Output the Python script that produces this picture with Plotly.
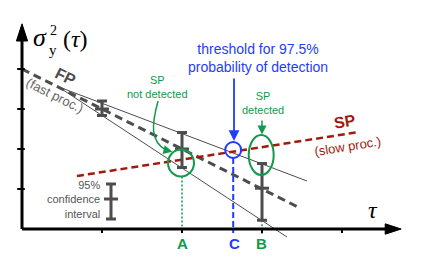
import plotly.graph_objects as go

W, H = 436, 267
OFF = 8  # page body margin offset of the figure in the browser
# data coordinate frame: tau ticks at 1..4, variance ticks at 1..4
X_RANGE = [(OFF - 22) / 80, (W + OFF - 22) / 80]
Y_RANGE = [(229 - H - OFF) / 40, (229 - OFF) / 40]

# ---- data ----
tau_ticks = [1, 2, 3, 4]
var_ticks = [1, 2, 3, 4]

fp_x = [0.0, 3.46]          # FP (fast process) mean line
fp_y = [4.0, 0.54]
upper_x = [0.45, 3.5625]    # upper confidence bound
upper_y = [3.56, 1.2]
lower_x = [0.45, 3.3125]    # lower confidence bound
lower_y = [3.56, -0.2]
sp_x = [0.6875, 4.2125]     # SP (slow process) line
sp_y = [1.325, 2.425]

eb_x = [1, 2, 3]            # measured points with 95% CI
eb_y = [3.0, 2.0, 1.02]
eb_up = [0.2, 0.41, 0.62]
eb_down = [0.16, 0.46, 0.8]

legend_eb_x = [1.1125]
legend_eb_y = [0.75]
legend_eb_up = [0.375]
legend_eb_down = [0.5]

tau_A, tau_B, tau_C = 2.0, 3.0, 2.64
circA = dict(cx=1.9875, cy=1.65, rx=0.1625, ry=0.335)
ellB = dict(cx=2.99, cy=1.85, rx=0.156, ry=0.5)
circC = dict(cx=2.64, cy=1.975, rx=0.1, ry=0.2)

GRAY = "#4d4d4d"
RED = "#a11a0c"
GREEN = "#0f9a4c"
BLUE = "#1f3cff"
SANS = "Liberation Sans, Arial, sans-serif"
SERIF = "Liberation Serif, Times New Roman, serif"

fig = go.Figure()

def line(x, y, color, width, dash="solid"):
    fig.add_trace(go.Scatter(x=x, y=y, mode="lines", hoverinfo="skip",
                             line=dict(color=color, width=width, dash=dash)))

line(upper_x, upper_y, GRAY, 1)
line(lower_x, lower_y, GRAY, 1)
line(fp_x, fp_y, GRAY, 3, "8px,5px")
line(sp_x, sp_y, RED, 2.5, "7px,4px")

# vertical guides
line([tau_A, tau_A], [circA["cy"] - circA["ry"], 0], GREEN, 1.5, "2px,2px")
line([tau_B, tau_B], [eb_y[2] - eb_down[2], -0.12], GREEN, 1.5, "2px,2px")
line([tau_C, tau_C], [circC["cy"] - circC["ry"], -0.1], BLUE, 2, "6px,3px")

def ebars(x, y, up, down):
    fig.add_trace(go.Scatter(
        x=x, y=y, mode="markers", hoverinfo="skip",
        marker=dict(symbol="line-ew", size=10, line=dict(color=GRAY, width=3)),
        error_y=dict(type="data", symmetric=False, array=up, arrayminus=down,
                     color=GRAY, thickness=3, width=5)))

ebars(eb_x, eb_y, eb_up, eb_down)
ebars(legend_eb_x, legend_eb_y, legend_eb_up, legend_eb_down)

shapes = []
# axes
shapes.append(dict(type="line", x0=0, y0=0, x1=0, y1=4.8, line=dict(color="black", width=3)))
shapes.append(dict(type="line", x0=0, y0=0, x1=4.6, y1=0, line=dict(color="black", width=3)))
shapes.append(dict(type="path", path="M -0.07 4.7 L 0 5.13 L 0.07 4.7 Z",
                   fillcolor="black", line=dict(color="black", width=1)))
shapes.append(dict(type="path", path="M 4.54 0.13 L 4.74 0 L 4.54 -0.13 Z",
                   fillcolor="black", line=dict(color="black", width=1)))
for t in var_ticks:
    shapes.append(dict(type="line", x0=-0.06, y0=t, x1=0.035, y1=t, line=dict(color="black", width=2)))
for t in tau_ticks:
    shapes.append(dict(type="line", x0=t, y0=0.02, x1=t, y1=-0.1, line=dict(color="black", width=2)))

def ellipse(e, color, width=2):
    return dict(type="circle", x0=e["cx"] - e["rx"], x1=e["cx"] + e["rx"],
                y0=e["cy"] - e["ry"], y1=e["cy"] + e["ry"],
                line=dict(color=color, width=width), fillcolor="rgba(0,0,0,0)")

shapes += [ellipse(circA, GREEN), ellipse(ellB, GREEN), ellipse(circC, BLUE)]
# curved arrow "not detected"
shapes.append(dict(type="path", path="M 1.7 3.2 C 1.62 2.6, 1.6 2.2, 1.8 1.97",
                   line=dict(color=GREEN, width=1.5)))

def P(px, py):
    return (px - OFF) / W, 1 - (py - OFF) / H

anns = []

def txt(px, py, text, size, color, family=SANS, angle=0, align="center", xanchor="center"):
    x, y = P(px, py)
    anns.append(dict(x=x, y=y, xref="paper", yref="paper", text=text, showarrow=False,
                     font=dict(size=size, color=color, family=family), textangle=angle,
                     align=align, xanchor=xanchor, yanchor="middle"))

txt(258, 58, "threshold for 97.5%<br>probability of detection", 14, BLUE)
txt(157, 87, "SP<br>not detected", 11, GREEN)
txt(263, 103, "SP<br>detected", 11, GREEN)
txt(102, 199, "95%<br>confidence<br>interval", 11, "#555555", align="right", xanchor="right")
txt(65, 77, "<b>FP</b>", 16, GRAY, angle=26.6)
txt(55, 95, "(fast proc.)", 13, "#666666", angle=26.6)
txt(345, 122, "<b>SP</b>", 16, RED, angle=-9)
txt(347, 146, "(slow proc.)", 13, RED, angle=-9)
txt(182, 243, "<b>A</b>", 15, GREEN)
txt(262, 243, "<b>B</b>", 15, GREEN)
txt(234, 243, "<b>C</b>", 15, BLUE)
txt(373, 210, "<i>τ</i>", 24, "black", family=SERIF)
txt(40, 37, "<i>σ</i>", 26, "black", family=SERIF)
txt(53, 31, "2", 14, "black", family=SERIF)
txt(53, 50, "y", 15, "black", family=SERIF)
txt(75, 39, "(<i>τ</i>)", 24, "black", family=SERIF)

# arrows (data coords)
anns.append(dict(x=2.65, y=2.2, ax=2.65, ay=3.8, xref="x", yref="y", axref="x", ayref="y",
                 text="", showarrow=True, arrowhead=2, arrowsize=1.2, arrowwidth=1.8, arrowcolor=BLUE))
anns.append(dict(x=3.0, y=2.36, ax=3.0, ay=2.75, xref="x", yref="y", axref="x", ayref="y",
                 text="", showarrow=True, arrowhead=2, arrowsize=1.2, arrowwidth=1.5, arrowcolor=GREEN))
anns.append(dict(x=1.88, y=1.93, ax=1.78, ay=1.98, xref="x", yref="y", axref="x", ayref="y",
                 text="", showarrow=True, arrowhead=2, arrowsize=1.2, arrowwidth=1.5, arrowcolor=GREEN))

fig.update_layout(
    width=W, height=H, margin=dict(l=0, r=0, t=0, b=0),
    paper_bgcolor="white", plot_bgcolor="white", showlegend=False,
    xaxis=dict(range=X_RANGE, visible=False, fixedrange=True),
    yaxis=dict(range=Y_RANGE, visible=False, fixedrange=True),
    shapes=shapes, annotations=anns,
)
fig.write_html("out.html")
